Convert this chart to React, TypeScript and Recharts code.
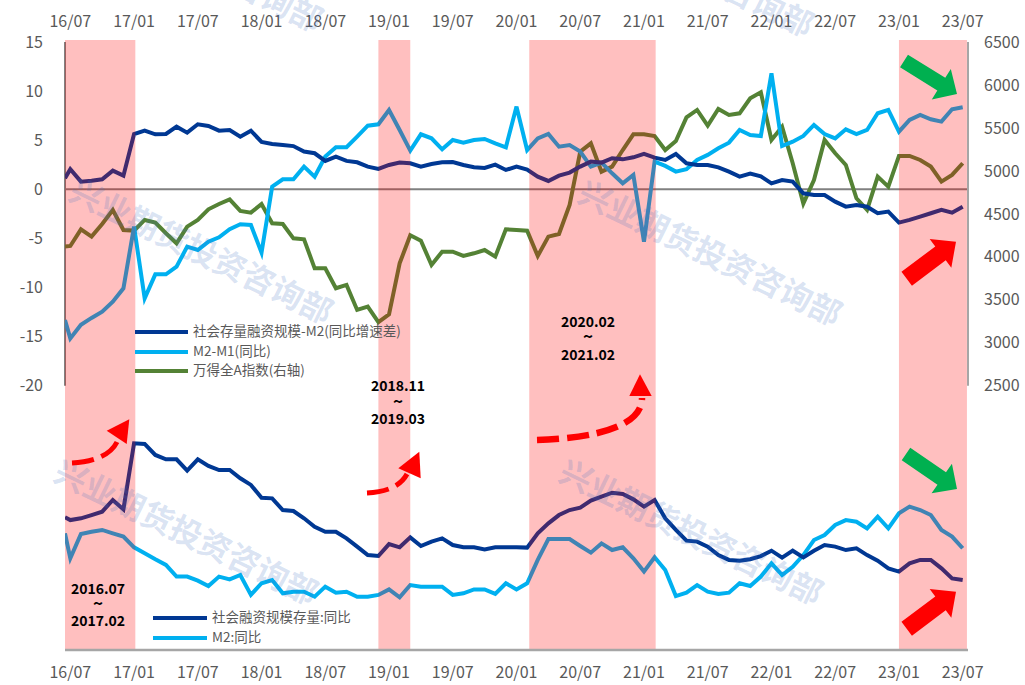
import { ComposedChart, Line, XAxis, YAxis, ReferenceArea, ReferenceLine } from "recharts"

// x positions: first point sits on the left edge, then one per month from 2016-07 (0) to 2023-07 (84)
const monthX = [-0.5, ...Array.from({ length: 85 }, (_, i) => i)]
const tickPos = [0, 6, 12, 18, 24, 30, 36, 42, 48, 54, 60, 66, 72, 78, 84]
const tickLabels = ["16/07", "17/01", "17/07", "18/01", "18/07", "19/01", "19/07", "20/01", "20/07", "21/01", "21/07", "22/01", "22/07", "23/01", "23/07"]

// 社会存量融资规模-M2(同比增速差)
const tsfM2Gap = [
  1.12, 2.04, 0.78, 0.88, 1.02, 1.9, 1.39, 5.63, 5.97, 5.6, 5.63, 6.38, 5.77, 6.62, 6.45, 5.97, 6.04, 5.36, 5.97, 4.82,
  4.62, 4.51, 4.4, 3.84, 3.67, 2.89, 3.33, 2.89, 2.75, 2.31, 2.07, 2.48, 2.72, 2.65, 2.31, 2.58, 2.75, 2.78, 2.48, 2.24,
  2.17, 2.51, 1.97, 2.31, 2.0, 1.29, 0.85, 1.39, 1.7, 2.31, 2.82, 2.72, 3.16, 3.05, 3.26, 3.6, 3.22, 2.99, 3.6, 2.65,
  2.48, 2.48, 2.24, 1.8, 1.29, 1.6, 1.32, 0.61, 0.95, 0.78, -0.41, -0.58, -0.58, -1.26, -1.77, -1.6, -1.77, -2.44, -2.27, -3.39,
  -3.12, -2.78, -2.44, -2.1, -2.38, -1.77,
]
// M2-M1(同比)
const m2m1Gap = [
  -13.31, -15.18, -13.8, -13.1, -12.46, -11.44, -10.08, -3.8, -11.1, -8.66, -8.66, -7.88, -5.84, -6.18, -5.33, -4.89, -4.07, -3.56, -3.63, -6.45,
  0.27, 1.02, 1.02, 2.31, 1.29, 3.33, 4.28, 4.28, 5.36, 6.48, 6.62, 8.08, 6.04, 3.94, 5.6, 5.19, 4.07, 5.02, 4.75, 5.02,
  5.13, 4.68, 4.28, 8.42, 4.0, 5.19, 5.63, 4.34, 4.51, 3.84, 2.31, 2.72, 1.63, 0.61, 1.46, -5.33, 2.82, 2.38, 1.8, 2.04,
  2.99, 3.5, 4.18, 4.75, 6.04, 5.53, 5.43, 11.81, 4.41, 4.85, 5.43, 6.55, 5.63, 5.19, 6.11, 5.63, 6.04, 7.74, 8.08, 5.87,
  7.06, 7.57, 7.13, 6.89, 8.15, 8.35,
]
// 万得全A指数(右轴)
const windA = [
  4119, 4126, 4320, 4235, 4382, 4545, 4312, 4305, 4429, 4398, 4274, 4157, 4351, 4429, 4553, 4615, 4669, 4534, 4514, 4615,
  4390, 4382, 4215, 4204, 3866, 3866, 3634, 3673, 3382, 3421, 3240, 3330, 3925, 4250, 4188, 3905, 4060, 4060, 4010, 4041,
  4079, 4002, 4320, 4312, 4303, 4010, 4235, 4266, 4603, 5224, 5321, 4991, 5049, 5243, 5426, 5426, 5406, 5243, 5348, 5623,
  5709, 5526, 5720, 5651, 5670, 5845, 5915, 5360, 5514, 5089, 4620, 4894, 5360, 5205, 5069, 4681, 4546, 4934, 4817, 5174,
  5174, 5127, 5050, 4875, 4953, 5089,
]
// 社会融资规模存量:同比
const tsfYoy = [
  12.19, 12.02, 12.13, 12.33, 12.54, 13.26, 12.68, 16.76, 16.72, 16.04, 15.77, 15.77, 15.07, 15.77, 15.36, 15.11, 15.11, 14.6, 14.19, 13.4,
  13.36, 12.64, 12.58, 12.13, 11.61, 11.3, 11.3, 10.89, 10.38, 9.86, 9.8, 10.54, 10.34, 10.95, 10.42, 10.69, 10.89, 10.48, 10.34, 10.34,
  10.21, 10.34, 10.34, 10.34, 10.32, 11.2, 11.82, 12.33, 12.64, 12.79, 13.22, 13.47, 13.71, 13.63, 13.3, 12.85, 13.26, 12.13, 11.41, 10.75,
  10.69, 10.38, 9.86, 9.56, 9.51, 9.6, 9.8, 10.13, 9.7, 10.13, 9.72, 10.13, 10.48, 10.38, 10.17, 10.28, 9.86, 9.51, 9.04, 8.84,
  9.35, 9.56, 9.56, 9.04, 8.42, 8.32,
]
// M2:同比
const m2Yoy = [
  11.2, 9.66, 11.16, 11.3, 11.41, 11.2, 11.0, 10.34, 9.97, 9.6, 9.25, 8.53, 8.53, 8.28, 7.95, 8.53, 8.36, 8.63, 7.4, 8.12,
  8.32, 7.5, 7.6, 7.6, 7.29, 7.91, 7.54, 7.6, 7.29, 7.29, 7.4, 7.74, 7.25, 8.01, 7.91, 7.91, 7.91, 7.4, 7.5, 7.74,
  7.74, 7.46, 8.12, 7.74, 8.12, 9.56, 10.85, 10.85, 10.85, 10.42, 10.01, 10.58, 10.17, 10.34, 9.66, 8.84, 9.72, 8.94, 7.33, 7.54,
  8.01, 7.6, 7.46, 7.54, 8.12, 7.95, 8.53, 9.35, 8.63, 9.14, 9.86, 10.79, 11.1, 11.72, 12.02, 11.92, 11.51, 12.23, 11.51, 12.44,
  12.85, 12.64, 12.33, 11.41, 11.0, 10.28,
]

// shaded periods, in month index
const bands: [number, number][] = [[-0.5, 6.12], [29.0, 32.0], [43.2, 55.1], [78.0, 84.4]]

const chartData = monthX.map((x, i) => ({
  x,
  tsfM2Gap: tsfM2Gap[i],
  m2m1Gap: m2m1Gap[i],
  windA: windA[i],
  tsfYoy: tsfYoy[i],
  m2Yoy: m2Yoy[i],
}))

const FONT = "'Noto Sans CJK SC', 'Noto Sans', sans-serif"
const DARK = "#003893"
const LIGHT = "#00B0F0"
const GREEN = "#548235"

// plot area spans y 40..650; the upper panel's scales sit in its top part
const PLOT_H = 610
const leftTop = 15 + 2 / 9.82
const leftDomain = [leftTop - PLOT_H / 9.82, leftTop]
const rightPx = 343.7 / 4000
const rightTop = 6500 + 2 / rightPx
const rightDomain = [rightTop - PLOT_H / rightPx, rightTop]
const bottomDomain = [4, 4 + PLOT_H / 16.2]

const tickStyle = { fill: "#595959", fontSize: 16, fontFamily: FONT }

function blockArrow(tail: number[], tip: number[], bw: number, hw: number, hl: number) {
  const dx = tip[0] - tail[0]
  const dy = tip[1] - tail[1]
  const len = Math.hypot(dx, dy)
  const ux = dx / len
  const uy = dy / len
  const nx = -uy
  const ny = ux
  const bx = tip[0] - ux * hl
  const by = tip[1] - uy * hl
  const pts = [
    [tail[0] + nx * bw, tail[1] + ny * bw],
    [bx + nx * bw, by + ny * bw],
    [bx + nx * hw, by + ny * hw],
    tip,
    [bx - nx * hw, by - ny * hw],
    [bx - nx * bw, by - ny * bw],
    [tail[0] - nx * bw, tail[1] - ny * bw],
  ]
  return pts.map((p) => p.join(",")).join(" ")
}

const Watermark = ({ cx, cy }: { cx: number; cy: number }) => (
  <text
    transform={`translate(${cx},${cy}) rotate(26)`}
    textAnchor="middle"
    dominantBaseline="middle"
    fontSize={32}
    fontWeight={700}
    fontFamily={FONT}
    fill="#4472C4"
    fillOpacity={0.2}
  >
    兴业期货投资咨询部
  </text>
)

const Period = ({ x, y, from, to }: { x: number; y: number[]; from: string; to: string }) => (
  <g fontFamily={FONT} fontWeight={700} fontSize={14} fill="#000" textAnchor="middle" dominantBaseline="middle">
    <text x={x} y={y[0]}>{from}</text>
    <text x={x} y={y[1]} fontSize={17}>~</text>
    <text x={x} y={y[2]}>{to}</text>
  </g>
)

const LegendRow = ({ x, y, color, label, len }: { x: number; y: number; color: string; label: string; len: number }) => (
  <g>
    <line x1={x} x2={x + len} y1={y} y2={y} stroke={color} strokeWidth={4} />
    <text x={x + len + 5} y={y} dominantBaseline="middle" fontSize={13.5} fill="#595959" fontFamily={FONT}>
      {label}
    </text>
  </g>
)

const App = () => {
  return (
    <div style={{ position: "absolute", left: 0, top: 0, width: 1025, height: 685, background: "#fff" }}>
      <ComposedChart width={1025} height={685} data={chartData} margin={{ top: 0, right: 0, bottom: 0, left: 0 }}>
        <XAxis
          xAxisId="top"
          orientation="top"
          dataKey="x"
          type="number"
          domain={[-0.5, 84.5]}
          allowDataOverflow
          ticks={tickPos}
          tickFormatter={(v: number) => tickLabels[tickPos.indexOf(v)]}
          height={40}
          axisLine={false}
          tickLine={false}
          tickSize={0}
          tickMargin={13}
          tick={tickStyle}
        />
        <XAxis
          xAxisId="bottom"
          dataKey="x"
          type="number"
          domain={[-0.5, 84.5]}
          allowDataOverflow
          ticks={tickPos}
          tickFormatter={(v: number) => tickLabels[tickPos.indexOf(v)]}
          height={35}
          axisLine={{ stroke: "#a6a6a6", strokeWidth: 2.5 }}
          tickLine={false}
          tickSize={0}
          tickMargin={17}
          tick={tickStyle}
        />
        <YAxis
          yAxisId="left"
          type="number"
          domain={leftDomain}
          allowDataOverflow
          ticks={[-20, -15, -10, -5, 0, 5, 10, 15]}
          width={65}
          axisLine={false}
          tickLine={false}
          tickSize={0}
          tickMargin={22}
          tick={tickStyle}
        />
        <YAxis
          yAxisId="right"
          orientation="right"
          type="number"
          domain={rightDomain}
          allowDataOverflow
          ticks={[2500, 3000, 3500, 4000, 4500, 5000, 5500, 6000, 6500]}
          width={57}
          axisLine={false}
          tickLine={false}
          tickSize={0}
          tickMargin={16}
          tick={tickStyle}
        />
        <YAxis yAxisId="bottom" type="number" domain={bottomDomain} allowDataOverflow hide width={0} />

        <ReferenceLine xAxisId="bottom" yAxisId="left" y={0} stroke="#808080" strokeWidth={2} />
        <ReferenceLine
          xAxisId="bottom"
          yAxisId="left"
          segment={[{ x: -0.5, y: 15 }, { x: -0.5, y: -20 }]}
          stroke="#808080"
          strokeWidth={2}
        />
        <ReferenceLine
          xAxisId="bottom"
          yAxisId="right"
          segment={[{ x: 84.5, y: 6500 }, { x: 84.5, y: 2500 }]}
          stroke="#a6a6a6"
          strokeWidth={2}
        />

        <Line xAxisId="bottom" yAxisId="right" dataKey="windA" stroke={GREEN} strokeWidth={4} dot={false} isAnimationActive={false} />
        <Line xAxisId="bottom" yAxisId="left" dataKey="m2m1Gap" stroke={LIGHT} strokeWidth={4} dot={false} isAnimationActive={false} />
        <Line xAxisId="bottom" yAxisId="left" dataKey="tsfM2Gap" stroke={DARK} strokeWidth={4} dot={false} isAnimationActive={false} />
        <Line xAxisId="bottom" yAxisId="bottom" dataKey="m2Yoy" stroke={LIGHT} strokeWidth={4} dot={false} isAnimationActive={false} />
        <Line xAxisId="bottom" yAxisId="bottom" dataKey="tsfYoy" stroke={DARK} strokeWidth={4} dot={false} isAnimationActive={false} />

        {bands.map(([a, b], i) => (
          <ReferenceArea
            key={i}
            xAxisId="bottom"
            yAxisId="left"
            x1={a}
            x2={b}
            fill="#FF0000"
            fillOpacity={0.25}
            stroke="none"
            zIndex={450}
          />
        ))}
      </ComposedChart>

      <svg width={1025} height={685} style={{ position: "absolute", left: 0, top: 0, pointerEvents: "none" }}>
        <Watermark cx={190} cy={-38} />
        <Watermark cx={681} cy={-33} />
        <Watermark cx={200} cy={254} />
        <Watermark cx={709} cy={256} />
        <Watermark cx={185} cy={535} />
        <Watermark cx={690} cy={535} />

        <LegendRow x={135} y={332} color={DARK} label="社会存量融资规模-M2(同比增速差)" len={53} />
        <LegendRow x={135} y={352} color={LIGHT} label="M2-M1(同比)" len={53} />
        <LegendRow x={135} y={371} color={GREEN} label="万得全A指数(右轴)" len={53} />
        <LegendRow x={153} y={618} color={DARK} label="社会融资规模存量:同比" len={54} />
        <LegendRow x={153} y={638} color={LIGHT} label="M2:同比" len={54} />

        <Period x={98} y={[590, 605, 622]} from="2016.07" to="2017.02" />
        <Period x={398} y={[387, 403, 420]} from="2018.11" to="2019.03" />
        <Period x={588} y={[323, 338, 356]} from="2020.02" to="2021.02" />

        <g fill="none" stroke="#FF0000" strokeDasharray="22 8">
          <path d="M72,463 C92,462 110,456 117,442" strokeWidth={5} />
          <path d="M367,493 C385,492 400,487 407,474" strokeWidth={5} />
          <path d="M537,440 C600,438 642,425 642,398" strokeWidth={6.5} />
        </g>
        <g fill="#FF0000">
          <polygon points="106.7,430.7 129.3,419.3 126.7,444" />
          <polygon points="398.3,468.3 419.3,451.7 420.7,478.3" />
          <polygon points="629.3,396 640,374.3 651.7,396" />
          <polygon points={blockArrow([906.7, 278.8], [956, 241.7], 8.7, 18, 19.4)} />
          <polygon points={blockArrow([906.7, 628.8], [956, 591.7], 8.7, 18, 19.4)} />
        </g>
        <g fill="#00B050">
          <polygon points={blockArrow([904, 61], [957, 94], 7.5, 18, 18.5)} />
          <polygon points={blockArrow([906, 454], [957, 489], 7.5, 18, 18.5)} />
        </g>
      </svg>
    </div>
  )
}

export default App
